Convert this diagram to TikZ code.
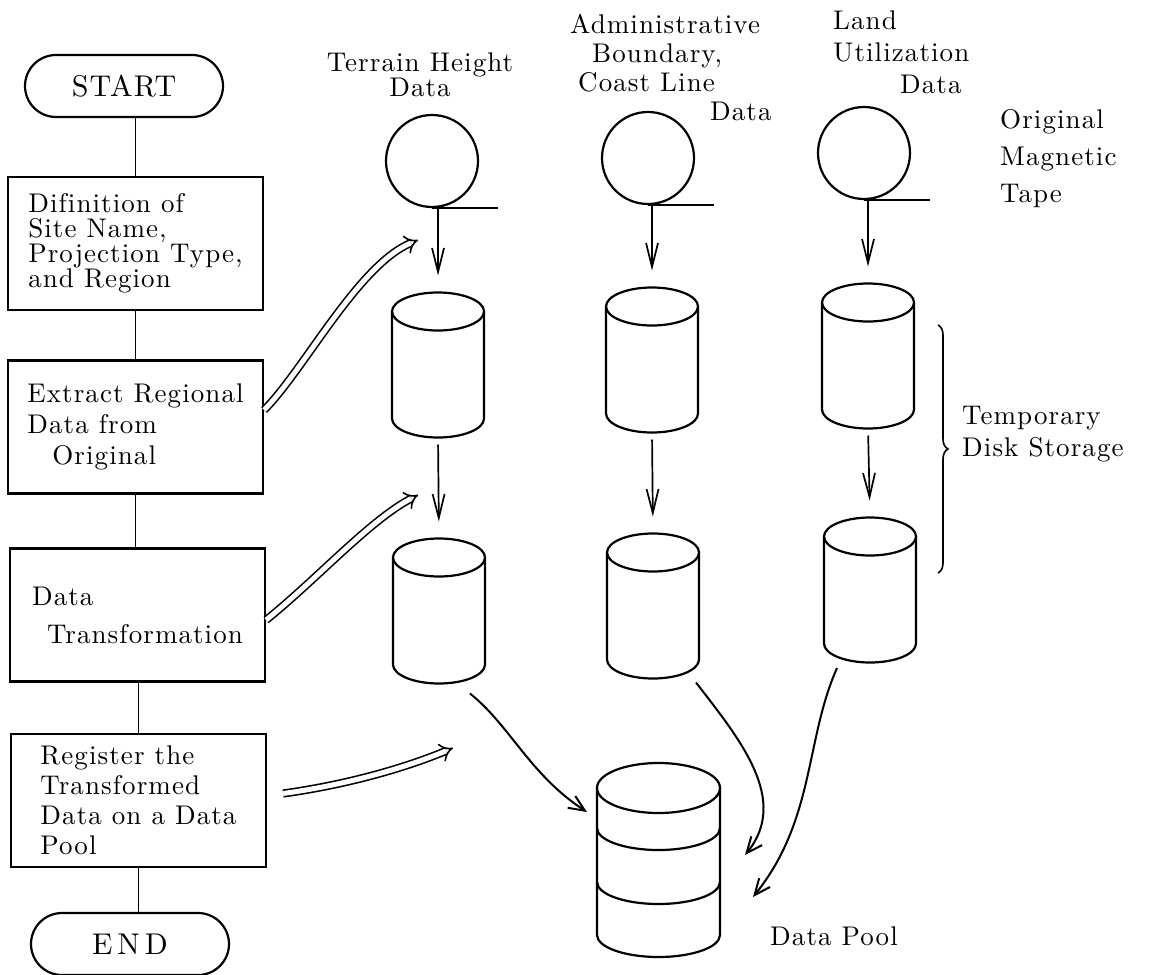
\documentclass[tikz,border=0pt]{standalone}
\usepackage{fontspec}
\setmainfont{lmroman10-regular.otf}[LetterSpace=4,Ligatures=CommonOff]
\usetikzlibrary{arrows.meta,positioning,calc,shapes.misc,decorations.pathreplacing}
\tikzset{
  terminal/.style={rounded rectangle,draw,line width=2.2pt,minimum width=198pt,minimum height=62pt,inner sep=0pt,font=\fontsize{30}{34}\selectfont},
  procbox/.style={rectangle,draw,line width=2.2pt,align=left,minimum width=255pt,minimum height=133pt,inner sep=0pt,font=\fontsize{27}{#1}\selectfont},
  lbl/.style={inner sep=0pt,align=left,font=\fontsize{27}{#1}\selectfont},
  tape/.style={circle,draw,line width=2.2pt,minimum size=92pt,inner sep=0pt},
  flow/.style={line width=1.6pt},
  barb/.style={line width=1.7pt,-{Straight Barb[length=24pt,width=12pt]}},
  poolarrow/.style={line width=2pt,-{Straight Barb[length=16pt,width=14pt]}},
  hint/.style={double,double distance=5pt,line width=1.6pt,-{Implies[length=9pt,width=18pt]}},
  pics/disk/.style={code={
    \draw[line width=2.2pt] (0,-53.5) ellipse[x radius=46pt,y radius=19pt];
    \draw[line width=2.2pt] (-46,-53.5) -- (-46,53.5) arc[start angle=180,end angle=360,x radius=46pt,y radius=19pt] -- (46,-53.5);
    \coordinate (-top) at (0,-72.5);
    \coordinate (-bot) at (0,72.5);
  }},
  pics/pool/.style={code={
    \draw[line width=2.2pt] (0,-72) ellipse[x radius=61.5pt,y radius=25pt];
    \draw[line width=2.2pt] (-61.5,-72) -- (-61.5,75) arc[start angle=180,end angle=360,x radius=61.5pt,y radius=22pt] -- (61.5,-72);
    \foreach \yb in {-32,22}
      \draw[line width=2.2pt] (-61.5,\yb) arc[start angle=180,end angle=360,x radius=61.5pt,y radius=22pt];
    \coordinate (-west) at (-61.5,-48);
    \coordinate (-east) at (61.5,0);
  }}
}

\begin{document}
\begin{tikzpicture}[x=1pt,y=-1pt]
  \useasboundingbox (0,0) rectangle (1158,974);

  % flowchart on the left
  \node[terminal] (start) at (124,86) {START};
  \node[procbox=25] (define) at (135.5,243.5) {Difinition of\\Site Name,\\Projection Type,\\and Region};
  \node[procbox=31] (extract) at (135.5,427) {Extract Regional\\Data from\\\hspace*{25pt}Original};
  \node[procbox=38] (transform) at (137.5,615) {Data\\\hspace*{15pt}Transformation};
  \node[procbox=30] (register) at (138.5,800.5) {Register the\\Transformed\\Data on a Data\\Pool};
  \node[terminal] (finish) at (130,944) {E\kern5pt N\kern5pt D};

  \draw[flow] (define.north) -- (define.north |- start.south);
  \draw[flow] (define.south) -- (extract.north);
  \draw[flow] (extract.south) -- (extract.south |- transform.north);
  \draw[flow] (register.north) -- (register.north |- transform.south);
  \draw[flow] (register.south) -- (register.south |- finish.north);

  % data sets: tape, then two temporary disks
  \foreach \col/\tx/\ty/\ux/\uy/\lx/\ly in {1/432/161/438/365/439/611,2/648/158/652/360/653/606,3/864/153/868/356/870/590} {
    \node[tape] (tape\col) at (\tx,\ty) {};
    \draw[line width=1.8pt] (tape\col.south) -- ++(66,0);
    \pic (up\col) at (\ux,\uy) {disk};
    \pic (lo\col) at (\lx,\ly) {disk};
    \draw[barb,shorten >=17pt] (tape\col.south -| up\col-top) -- (up\col-top);
    \draw[barb,shorten <=7pt,shorten >=17pt] (up\col-bot) -- (lo\col-top);
  }

  \node[lbl=25,align=center,anchor=north] (heightlbl) at (420,53) {Terrain Height\\Data};
  \node[lbl=29,anchor=north west] (boundlbl) at (570,14) {Administrative\\\hspace*{22pt}Boundary,\\\hspace*{8pt}Coast Line\\\hspace*{140pt}Data};
  \node[lbl=32,anchor=north west] (landlbl) at (833,11) {Land\\Utilization\\\hspace*{67pt}Data};
  \node[lbl=37,anchor=north west] (tapelbl) at (1000,109) {Original\\Magnetic\\Tape};

  % temporary storage brace
  \coordinate (bracetop) at (938,325);
  \coordinate (bracebot) at (938,573);
  \draw[line width=1.6pt,decorate,decoration={brace,amplitude=10pt}] (bracetop) -- (bracebot);
  \node[lbl=32,anchor=north west] (storelbl) at (962,406) {Temporary\\Disk Storage};

  % data pool
  \pic (pool) at (658.5,860) {pool};
  \node[lbl=30,anchor=base west] (poollbl) at (770,945) {Data Pool};

  \draw[poolarrow] ([shift={(31pt,-10pt)}]lo1-bot) .. controls +(40,32) and +(-57,-37) .. ([shift={(-10pt,0pt)}]pool-west);
  \draw[poolarrow] ([shift={(43pt,-4pt)}]lo2-bot) .. controls +(44,57) and +(45,-55) .. ([shift={(25pt,5pt)}]pool-east);
  \draw[poolarrow] ([shift={(-33pt,-5.5pt)}]lo3-bot) .. controls +(-32,72) and +(62,-77) .. ([shift={(33pt,-37pt)}]pool-east);

  % processing steps acting on the data
  \coordinate (hintA) at (418,240);
  \coordinate (hintB) at (418,495);
  \coordinate (hintC) at (453,748);
  \draw[hint] ([yshift=17pt]extract.east) .. controls +(40,-40) and +(-60,25) .. (hintA);
  \draw[hint] ([yshift=-5pt]transform.east) .. controls +(52,-42) and +(-48,25) .. (hintB);
  \draw[hint] ([shift={(16pt,7pt)}]register.east) .. controls +(58,-8) and +(-53,22) .. (hintC);
\end{tikzpicture}
\end{document}
